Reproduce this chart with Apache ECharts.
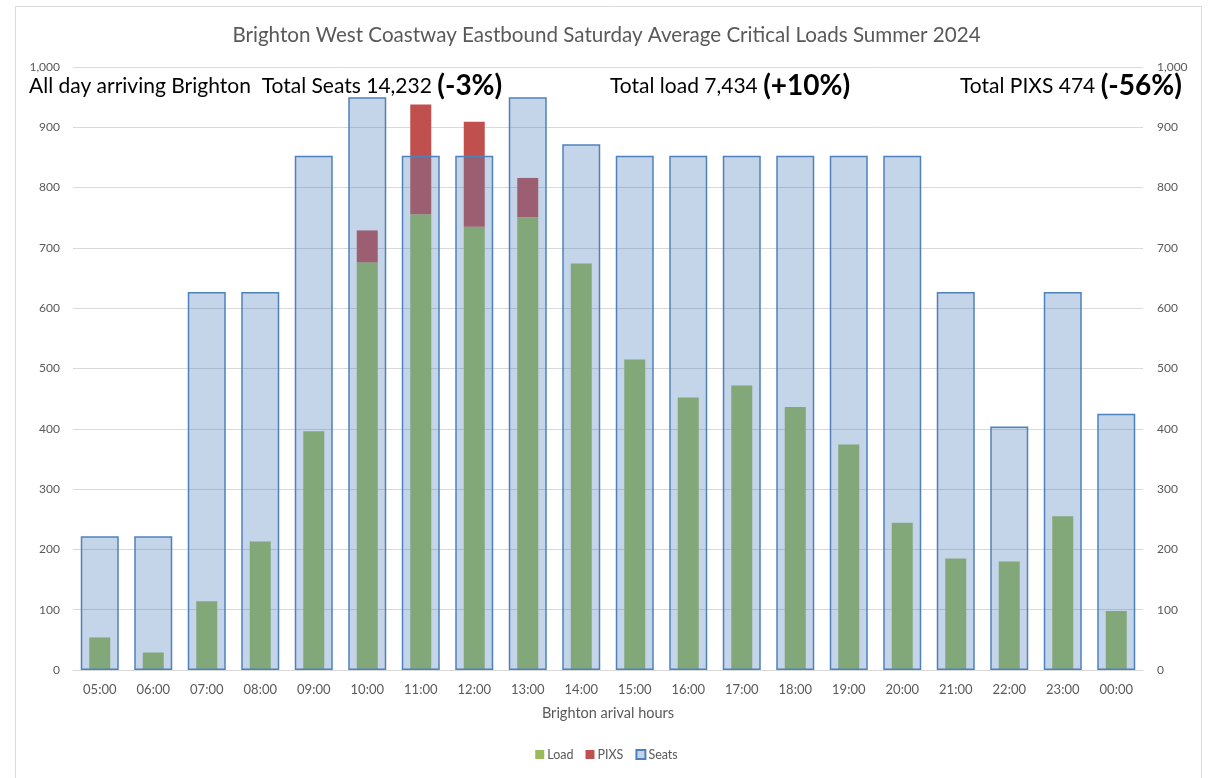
<!DOCTYPE html>
<html><head><meta charset="utf-8">
<script src="https://cdn.jsdelivr.net/npm/echarts@6/dist/echarts.min.js"></script>
<style>html,body{margin:0;padding:0;background:#fff}#c{width:1213px;height:778px}</style>
</head><body><div id="c"></div>
<script>
const hours = ['05:00','06:00','07:00','08:00','09:00','10:00','11:00','12:00','13:00','14:00','15:00','16:00','17:00','18:00','19:00','20:00','21:00','22:00','23:00','00:00'];
const load  = [54, 29, 114, 213, 396, 676, 756, 735, 751, 674, 515, 452, 472, 436, 374, 244, 185, 180, 255, 98];
const pixs  = [0, 0, 0, 0, 0, 53, 182, 174, 65, 0, 0, 0, 0, 0, 0, 0, 0, 0, 0, 0];
const seats = [222, 222, 627, 627, 853, 950, 853, 853, 950, 872, 853, 853, 853, 853, 853, 853, 627, 404, 627, 425];
const notes = [
  {x: 29,  a: 'All day arriving Brighton  Total Seats 14,232 ', b: '(-3%)'},
  {x: 610, a: 'Total load 7,434 ', b: '(+10%)'},
  {x: 960, a: 'Total PIXS 474 ', b: '(-56%)'}
];
const FONT = 'Lato';
const fmt = v => v.toLocaleString('en-US');
const chart = echarts.init(document.getElementById('c'), null, {renderer: 'canvas'});
chart.setOption({
  animation: false,
  textStyle: {fontFamily: FONT},
  title: {
    text: 'Brighton West Coastway Eastbound Saturday Average Critical Loads Summer 2024',
    left: 'center', top: 20,
    textStyle: {fontFamily: FONT, fontSize: 20.6, fontWeight: 'normal', color: '#595959'}
  },
  graphic: [
    {type: 'rect', silent: true, z: -10, shape: {x: 15.5, y: 6.5, width: 1186, height: 790},
     style: {fill: '#fff', stroke: '#D9D9D9', lineWidth: 1}},
    ...notes.map(n => ({
      type: 'text', x: n.x, y: 86, z: 100,
      style: {
        text: '{a|' + n.a + '}{b|' + n.b + '}',
        verticalAlign: 'middle', align: 'left',
        rich: {
          a: {fontFamily: FONT, fontSize: 21, fill: '#000', color: '#000'},
          b: {fontFamily: FONT, fontSize: 28, fontWeight: 'bold', fill: '#000', color: '#000'}
        }
      }
    }))
  ],
  legend: {
    bottom: 12, left: 'center', itemWidth: 9, itemHeight: 9, itemGap: 12,
    icon: 'rect',
    data: ['Load', 'PIXS', 'Seats'],
    textStyle: {fontFamily: FONT, fontSize: 12.5, color: '#595959', padding: [0, 0, 0, -2]}
  },
  grid: {left: 73, right: 70, top: 67, bottom: 108, containLabel: false},
  xAxis: [
    {type: 'category', data: hours, position: 'bottom',
     axisLine: {lineStyle: {color: '#D9D9D9'}}, axisTick: {show: false},
     axisLabel: {color: '#595959', fontSize: 13, margin: 13, fontFamily: FONT},
     name: 'Brighton arival hours', nameLocation: 'middle', nameGap: 36,
     nameTextStyle: {color: '#595959', fontSize: 14.5, fontFamily: FONT}},
    {type: 'category', data: hours, position: 'bottom', show: false}
  ],
  yAxis: [
    {type: 'value', min: 0, max: 1000, interval: 100, position: 'left',
     axisLine: {show: false}, axisTick: {show: false},
     axisLabel: {color: '#595959', fontSize: 12, margin: 13, formatter: fmt, fontFamily: FONT},
     splitLine: {lineStyle: {color: '#D9D9D9'}}},
    {type: 'value', min: 0, max: 1000, interval: 100, position: 'right',
     axisLine: {show: false}, axisTick: {show: false},
     axisLabel: {color: '#595959', fontSize: 12, margin: 14, formatter: fmt, fontFamily: FONT},
     splitLine: {show: false}}
  ],
  series: [
    {name: 'Load', type: 'bar', stack: 'lp', xAxisIndex: 0, yAxisIndex: 0, barWidth: 21,
     data: load, itemStyle: {color: '#9BBB59'}},
    {name: 'PIXS', type: 'bar', stack: 'lp', xAxisIndex: 0, yAxisIndex: 0, barWidth: 21,
     data: pixs, itemStyle: {color: '#C0504D'}},
    {name: 'Seats', type: 'bar', xAxisIndex: 1, yAxisIndex: 0, barWidth: 38,
     data: seats, itemStyle: {color: 'rgba(79,129,189,0.33)', borderColor: '#4F81BD', borderWidth: 1.5}}
  ]
});
</script></body></html>
